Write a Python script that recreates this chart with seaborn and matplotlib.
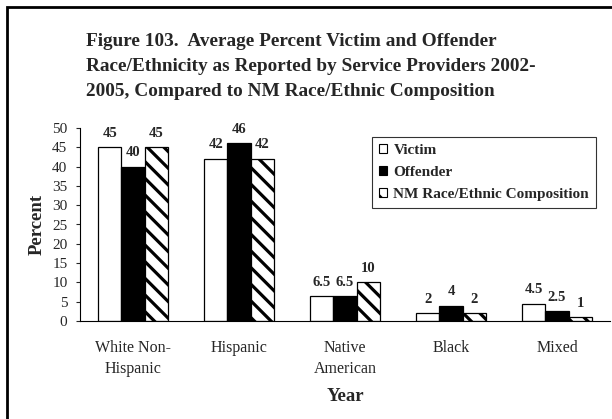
import matplotlib
matplotlib.use("Agg")
import matplotlib.pyplot as plt
import matplotlib.patches as mpatches
import seaborn as sns
import pandas as pd

categories = ["White Non-\nHispanic", "Hispanic", "Native\nAmerican", "Black", "Mixed"]
series = ["Victim", "Offender", "NM Race/Ethnic Composition"]
victim = [45, 42, 6.5, 2, 4.5]
offender = [40, 46, 6.5, 4, 2.5]
nm_comp = [45, 42, 10, 2, 1]
label_text = {
    "Victim": ["45", "42", "6.5", "2", "4.5"],
    "Offender": ["40", "46", "6.5", "4", "2.5"],
    "NM Race/Ethnic Composition": ["45", "42", "10", "2", "1"],
}
yticks = list(range(0, 51, 5))
title_lines = ["Figure 103.  Average Percent Victim and Offender",
               "Race/Ethnicity as Reported by Service Providers 2002-",
               "2005, Compared to NM Race/Ethnic Composition"]

rows = []
for s, vals in zip(series, [victim, offender, nm_comp]):
    for c, v in zip(categories, vals):
        rows.append({"Category": c, "Series": s, "Value": v})
df = pd.DataFrame(rows)

sns.set_style("white")
plt.rcParams["font.family"] = ["Liberation Serif", "DejaVu Serif"]
plt.rcParams["hatch.linewidth"] = 2.3
plt.rcParams["hatch.color"] = "black"

W, H = 612, 419
fig = plt.figure(figsize=(W / 100, H / 100), dpi=100)

# outer frame (right and bottom edges fall outside the picture)
fig.patches.append(mpatches.Rectangle((7 / W, -10 / H), 620 / W, (H + 10 - 7) / H,
                                      transform=fig.transFigure, fill=False,
                                      edgecolor="black", linewidth=2.0))

ax = fig.add_axes([80 / W, (H - 321) / H, 530 / W, 193 / H])

palette = {"Victim": "white", "Offender": "black", "NM Race/Ethnic Composition": "white"}
sns.barplot(data=df, x="Category", y="Value", hue="Series", order=categories,
            hue_order=series, palette=palette, edgecolor="black", linewidth=0.9,
            width=0.66, saturation=1, ax=ax, legend=False)

nbars = len(categories)
for i, p in enumerate(ax.patches[:3 * nbars]):
    s_idx = i // nbars
    c_idx = i % nbars
    s = series[s_idx]
    if s_idx == 2:
        p.set_hatch("\\\\")
    ax.annotate(label_text[s][c_idx],
                (p.get_x() + p.get_width() / 2, p.get_height()),
                xytext=(0, 10), textcoords="offset points",
                ha="center", va="center", fontsize=10.5, fontweight="bold")

ax.set_ylim(0, 50)
ax.set_yticks(yticks)
ax.set_yticklabels([str(t) for t in yticks], fontsize=11)
ax.set_xlim(-0.5, len(categories) - 0.5)
ax.set_xticks(range(len(categories)))
ax.set_xticklabels(categories, fontsize=11.5, linespacing=1.35)
ax.tick_params(axis="x", which="major", length=0, pad=14)
ax.set_xticks([i - 0.5 for i in range(len(categories) + 1)], minor=True)
ax.tick_params(axis="x", which="minor", length=3.5, width=0.8, direction="out")
ax.tick_params(axis="y", length=3, width=0.8, direction="out", pad=6, left=True)
for side in ["top", "right"]:
    ax.spines[side].set_visible(False)
for side in ["left", "bottom"]:
    ax.spines[side].set_linewidth(0.8)
    ax.spines[side].set_color("black")

ax.set_xlabel("Year", fontsize=13.5, fontweight="bold", labelpad=8)
ax.set_ylabel("Percent", fontsize=13.5, fontweight="bold", labelpad=5)

for k, line in enumerate(title_lines):
    fig.text(86 / W, 1 - (41 + 25.5 * k) / H, line,
             fontsize=13.9, fontweight="bold", ha="left", va="center")

handles = [mpatches.Patch(facecolor=palette[s], edgecolor="black", linewidth=0.8,
                          hatch="\\\\" if i == 2 else None, label=s)
           for i, s in enumerate(series)]
leg = fig.legend(handles=handles, loc="upper left",
                 bbox_to_anchor=(372 / W, 1 - 137 / H),
                 frameon=True, fancybox=False, edgecolor="black",
                 prop={"weight": "bold", "size": 11},
                 handlelength=0.55, handleheight=0.55, handletextpad=0.4,
                 borderpad=0.45, labelspacing=0.6, borderaxespad=0)
leg.get_frame().set_linewidth(0.8)

fig.savefig("out.png", dpi=100)
